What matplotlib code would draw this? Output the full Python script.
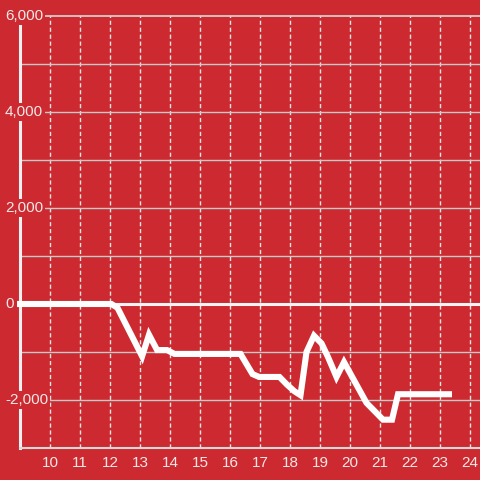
import matplotlib

matplotlib.use("Agg")
import matplotlib.pyplot as plt
from matplotlib.transforms import blended_transform_factory

plt.rcParams["font.family"] = ["Liberation Sans", "DejaVu Sans"]

RED = "#cc2a30"
TEXT = "#f2e8e8"

# hour of day vs cumulative value
hours = [8.9, 12.05, 12.25, 13.07, 13.3, 13.57, 13.9, 14.15, 16.35, 16.75,
         16.97, 17.65, 17.9, 18.15, 18.35, 18.55, 18.8, 19.05, 19.27, 19.55,
         19.8, 20.55, 21.1, 21.4, 21.6, 23.4]
values = [0, 0, -80, -1090, -640, -960, -960, -1040, -1040, -1460,
          -1520, -1520, -1680, -1820, -1900, -1000, -660, -820, -1110, -1520,
          -1210, -2060, -2410, -2410, -1880, -1880]

x_ticks = list(range(10, 25))
y_ticks = [6000, 4000, 2000, 0, -2000]
y_grid = [5000, 4000, 3000, 2000, 1000, -1000, -2000]

fig = plt.figure(figsize=(4.8, 4.8), dpi=100, facecolor=RED)
ax = fig.add_axes([20 / 480, 1 - 448 / 480, 460 / 480, 432 / 480])
ax.set_facecolor(RED)
ax.set_xlim(9.0, 24.333)
ax.set_ylim(-3000, 6000)

for x in x_ticks:
    ax.axvline(x, color="#e6e6e6", lw=1, ls=(0, (3, 2)), zorder=1)
for y in y_grid:
    ax.axhline(y, color="#c8c8c8", lw=1, zorder=1)
ax.axhline(6000, color="#d8d8d8", lw=1.2, zorder=1, clip_on=False)
ax.axhline(0, color="#f4f4f4", lw=2.2, zorder=2)

ax.plot(hours, values, color="white", lw=4.4, solid_joinstyle="miter",
        solid_capstyle="butt", zorder=3, clip_on=False)

for s in ["top", "right"]:
    ax.spines[s].set_visible(False)
ax.spines["left"].set_color("#f0f0f0")
ax.spines["left"].set_linewidth(2.2)
ax.spines["left"].set_zorder(2.5)
ax.spines["bottom"].set_color("#d8d8d8")
ax.spines["bottom"].set_linewidth(1.5)

ax.set_yticks([])
ax.set_xticks(x_ticks)
ax.tick_params(axis="x", length=0, pad=6, labelsize=11, labelcolor=TEXT)

trans = blended_transform_factory(fig.transFigure, ax.transData)
for y in y_ticks:
    ax.text(5 / 480, y, f"{y:,}", transform=trans, ha="left", va="center",
            fontsize=11, color=TEXT, zorder=5,
            bbox=dict(boxstyle="square,pad=0.12", fc=RED, ec="none"))

fig.savefig("out.png", dpi=100, facecolor=RED)
